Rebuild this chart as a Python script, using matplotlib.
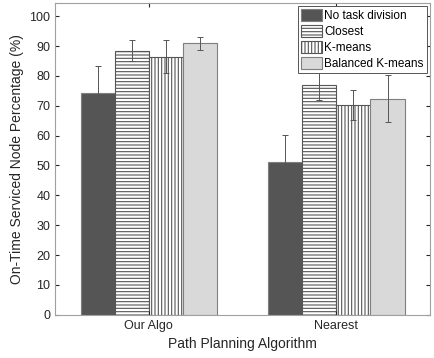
import numpy as np
import matplotlib
matplotlib.use('Agg')
import matplotlib.pyplot as plt

plt.rcParams['font.family'] = ['Liberation Sans', 'DejaVu Sans']
plt.rcParams['hatch.linewidth'] = 0.8

groups = ['Our Algo', 'Nearest']
methods = ['No task division', 'Closest', 'K-means', 'Balanced K-means']

# mean values per method, one entry per group
no_task = [74.4, 51.3]
closest = [88.5, 77.0]
kmeans = [86.5, 70.2]
balanced = [90.9, 72.4]

# error bar half lengths
no_task_err = [8.8, 8.9]
closest_err = [3.5, 5.0]
kmeans_err = [5.6, 5.1]
balanced_err = [2.3, 7.8]

means = [no_task, closest, kmeans, balanced]
errs = [no_task_err, closest_err, kmeans_err, balanced_err]
faces = ['#555555', 'white', 'white', '#d9d9d9']
hatches = [None, '-----', '|||||', None]

fig = plt.figure(figsize=(4.34, 3.58), dpi=100)
ax = fig.add_axes([0.127, 0.121, 0.864, 0.871])

x = np.arange(1, len(groups) + 1)
w = 0.182
for i in range(4):
    pos = x + (i - 1.5) * w
    ax.bar(pos, means[i], w, color=faces[i], edgecolor='#7f7f7f', linewidth=0.8,
           hatch=hatches[i], label=methods[i])
    ax.errorbar(pos, means[i], yerr=errs[i], fmt='none', ecolor='#555555',
                elinewidth=0.7, capsize=2, capthick=0.7)

# hatch colour
for p in ax.patches:
    if p.get_hatch():
        p.set_edgecolor('#555555')

ax.set_xlim(0.5, 2.5)
ax.set_ylim(0, 104.5)
ax.set_yticks(range(0, 101, 10))
ax.set_xticks(x)
ax.set_xticklabels(groups)
ax.tick_params(direction='in', length=3, colors='#262626', labelsize=9,
               top=True, right=True)
for s in ax.spines.values():
    s.set_color('#a0a0a0')
    s.set_linewidth(0.8)
ax.set_xlabel('Path Planning Algorithm', fontsize=10, color='#262626')
ax.set_ylabel('On-Time Serviced Node Percentage (%)', fontsize=10, color='#262626')

leg = ax.legend(loc='upper right', fontsize=8.5, fancybox=False, framealpha=1,
                borderpad=0.25, labelspacing=0.25, handlelength=1.8,
                handleheight=1.2, handletextpad=0.2, borderaxespad=0.3)
leg.get_frame().set_edgecolor('#555555')
leg.get_frame().set_linewidth(0.7)

fig.savefig('out.png', dpi=100)
